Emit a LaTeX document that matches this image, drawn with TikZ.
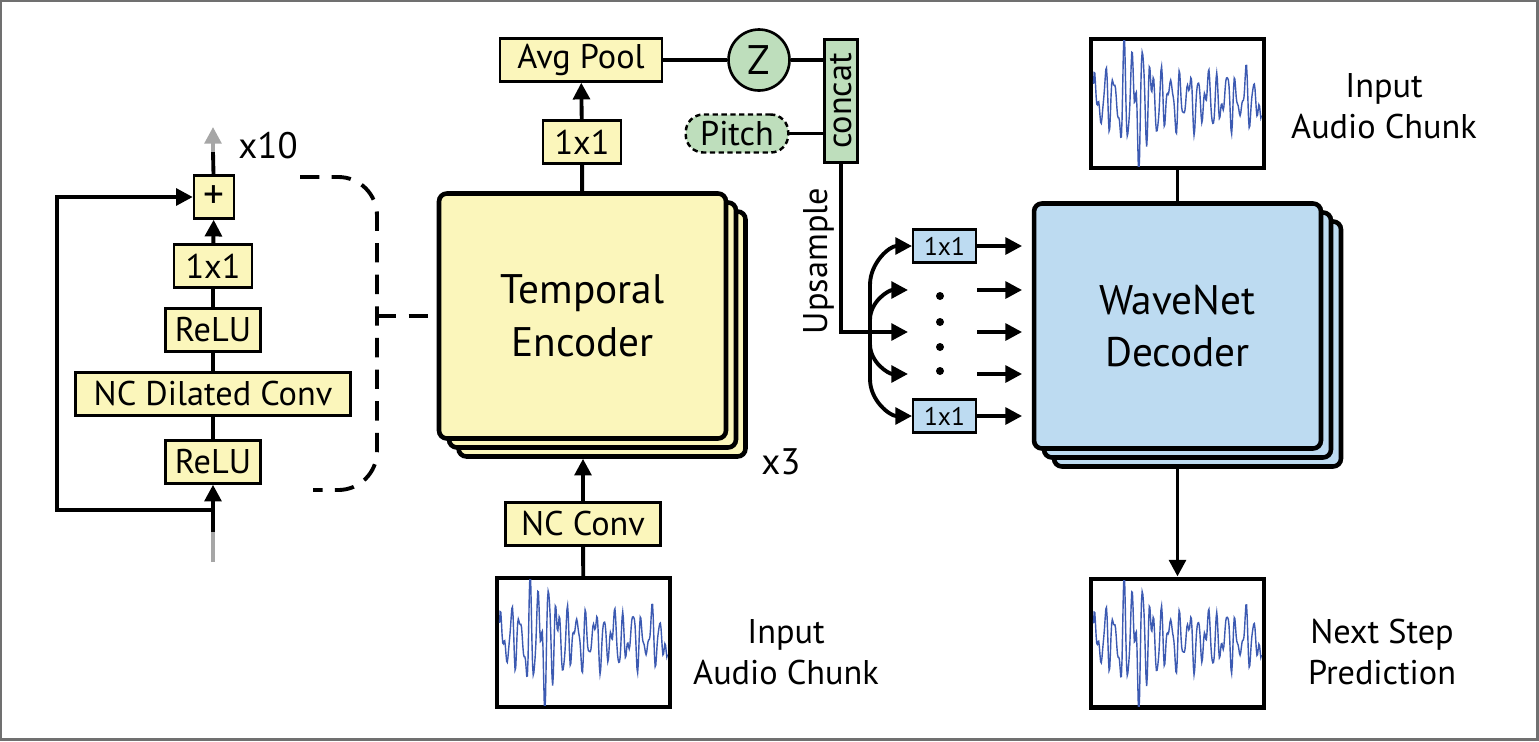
\documentclass[tikz,border=0pt]{standalone}
\usepackage{fontspec}
\setmainfont{PT Sans}
\usepackage{graphicx}
\usetikzlibrary{arrows.meta}

\definecolor{encyellow}{RGB}{251,246,187}
\definecolor{decblue}{RGB}{189,219,241}
\definecolor{zgreen}{RGB}{190,222,188}
\definecolor{wavecol}{RGB}{60,90,178}
\definecolor{framegray}{RGB}{112,112,112}

\newcommand{\fsmall}{\fontsize{19.5}{23.5}\selectfont}
\newcommand{\fbig}{\fontsize{23.5}{30}\selectfont}
\newcommand{\fmini}{\fontsize{14.5}{17}\selectfont}

\begin{document}
\begin{tikzpicture}[x=0.02cm, y=0.02cm,
    conn/.style={line width=2.2pt},
    arr/.style={conn, -{Triangle[length=9.5pt,width=9.5pt]}},
    box/.style={draw, line width=1.4pt, fill=encyellow, inner sep=0pt, minimum height=0.86cm, font=\fsmall},
    big/.style={draw, line width=2.6pt, rounded corners=4.5pt, minimum width=5.74cm, minimum height=4.9cm, align=center, font=\fbig},
    wbox/.style={draw, line width=2.3pt, fill=white, minimum width=3.46cm, minimum height=2.58cm},
    label/.style={align=center, font=\fsmall},
    dot/.style={circle, fill, inner sep=0pt, minimum size=0.16cm},
    declare function={wenv(\t)=0.5+0.6/(1+pow((\t-0.25)*(\t-0.25)/0.0081,2));
        wsig(\t)=sin(6480*\t)+0.6*sin(9900*\t+70)+0.35*sin(14300*\t+20)+0.3*sin(3100*\t+150);},
    pics/wave/.style={code={
        \begin{scope}
            \clip (-86,-63) rectangle (86,63);
            \draw[wavecol, line width=0.8pt] plot[domain=0:1, samples=260, variable=\t]
                ({-84+168*\t}, {4+37*wenv(\t)*wsig(\t)});
        \end{scope}
    }}]
    \useasboundingbox (0,0) rectangle (1539,-741);
    \draw[line width=1.7pt, framegray] (1,-1) rectangle (1537,-739);

    \begin{scope}
        \node[box, minimum width=0.8cm, font=\fbig] (plus) at (214,-197) {+};
        \node[box, minimum width=1.55cm] (l1) at (213,-266) {1x1};
        \node[box, minimum width=1.9cm] (relu1) at (213,-330) {ReLU};
        \node[box, minimum width=5.5cm] (ncd) at (213,-394) {NC Dilated Conv};
        \node[box, minimum width=1.9cm] (relu2) at (213,-462) {ReLU};
        \node[label, font=\fontsize{21}{25}\selectfont] (x10) at (268,-146) {x10};
        \coordinate (top) at (213,-127);
        \coordinate (topmid) at (213,-152);
        \coordinate (bot) at (213,-562);
        \coordinate (botmid) at (213,-532);
        \coordinate (split) at (213,-510);
        \draw[conn] (plus) -- (topmid);
        \draw[arr, black!35] (topmid) -- (top);
        \draw[arr] (l1) -- (plus);
        \draw[conn] (relu1) -- (l1);
        \draw[conn] (ncd) -- (relu1);
        \draw[conn] (relu2) -- (ncd);
        \draw[conn, black!35] (bot) -- (botmid);
        \draw[arr] (botmid) -- (relu2);
        \draw[arr] (split) -- ++(-156,0) |- (plus.west);
        \coordinate (brtop) at (300,-177);
        \coordinate (brbot) at (313,-490);
        \coordinate (brmid) at (377,-316);
        \draw[conn, dash pattern=on 11pt off 7pt, rounded corners=22pt] (brtop) -- (377,-177) -- (377,-490) -- (brbot);
    \end{scope}

    \begin{scope}
        \node[big, fill=encyellow] (enc3) at (602,-334) {};
        \node[big, fill=encyellow] (enc2) at (592.5,-325) {};
        \node[big, fill=encyellow] (enc) at (582.5,-316) {Temporal\\Encoder};
        \node[label, font=\fontsize{21}{25}\selectfont] (x3) at (781,-462) {x3};
        \node[box, minimum width=1.55cm] (e1) at (582,-142) {1x1};
        \node[box, minimum width=3.25cm] (avg) at (581,-60) {Avg Pool};
        \node[box, minimum width=3.1cm] (nc) at (583,-524) {NC Conv};
        \node[wbox] (wbot) at (583.5,-642.5) {};
        \pic at (wbot) {wave};
        \node[label] (inbot) at (786,-652) {Input\\Audio Chunk};
        \draw[conn, dash pattern=on 11pt off 7pt] (brmid) -- (enc.west);
        \draw[conn] (wbot) -- (nc);
        \draw[arr] (nc) -- (nc |- enc3.south);
        \draw[conn] (enc) -- (e1);
        \draw[arr] (e1) -- (avg);
    \end{scope}

    \begin{scope}
        \node[draw, circle, fill=zgreen, line width=1.5pt, minimum size=1.22cm, inner sep=0pt, font=\fbig] (Z) at (759,-60) {Z};
        \node[draw, dash pattern=on 3pt off 2pt, rounded corners=10pt, fill=zgreen, line width=1.4pt, minimum width=2.05cm, minimum height=0.76cm, inner sep=0pt, font=\fsmall] (pitch) at (737,-133.5) {Pitch};
        \node[draw, fill=zgreen, line width=1.4pt, minimum width=0.66cm, minimum height=2.46cm, inner sep=0pt, font=\fsmall] (concat) at (841,-101) {\rotatebox{90}{concat}};
        \node[label] (ups) at (819,-261) {\rotatebox{90}{Upsample}};
        \draw[conn] (avg) -- (Z);
        \draw[conn] (Z) -- (Z -| concat.west);
        \draw[conn] (pitch) -- (pitch -| concat.west);
    \end{scope}

    \begin{scope}
        \node[box, fill=decblue, minimum width=1.25cm, minimum height=0.66cm, font=\fmini] (b1) at (944.5,-246) {1x1};
        \node[box, fill=decblue, minimum width=1.25cm, minimum height=0.66cm, font=\fmini] (b5) at (944.5,-416) {1x1};
        \node[dot] (d1) at (940,-296) {};
        \node[dot] (d2) at (940,-322) {};
        \node[dot] (d3) at (940,-347) {};
        \node[dot] (d4) at (940,-371) {};
        \coordinate (fork) at (870,-332);
        \coordinate (l2) at (908,-290);
        \coordinate (l3) at (908,-332);
        \coordinate (l4) at (908,-374);
        \coordinate (r2) at (977,-290);
        \coordinate (r3) at (977,-332);
        \coordinate (r4) at (977,-374);
        \draw[arr] (concat) |- (l3);
        \draw[arr] (fork) -- ++(0,47) to[out=90,in=180] (b1);
        \draw[arr] (fork) ++(0,12) to[out=90,in=180] (l2);
        \draw[arr] (fork) ++(0,-12) to[out=-90,in=180] (l4);
        \draw[arr] (fork) -- ++(0,-47) to[out=-90,in=180] (b5);
    \end{scope}

    \begin{scope}
        \node[big, fill=decblue] (dec3) at (1197.5,-344) {};
        \node[big, fill=decblue] (dec2) at (1187.5,-335) {};
        \node[big, fill=decblue] (dec) at (1177.5,-326) {WaveNet\\Decoder};
        \node[wbox] (wtop) at (1177.5,-103.5) {};
        \pic at (wtop) {wave};
        \node[wbox] (wnext) at (1177.5,-643) {};
        \pic at (wnext) {wave};
        \node[label] (intop) at (1384,-106) {Input\\Audio Chunk};
        \node[label] (pred) at (1382,-652) {Next Step\\Prediction};
        \draw[arr, shorten >=5.5pt] (b1) -- (b1 -| dec.west);
        \draw[arr, shorten >=5.5pt] (r2) -- (r2 -| dec.west);
        \draw[arr, shorten >=5.5pt] (r3) -- (r3 -| dec.west);
        \draw[arr, shorten >=5.5pt] (r4) -- (r4 -| dec.west);
        \draw[arr, shorten >=5.5pt] (b5) -- (b5 -| dec.west);
        \draw[conn] (wtop) -- (dec);
        \draw[arr] (dec3.south -| dec) -- (wnext);
    \end{scope}
\end{tikzpicture}
\end{document}
